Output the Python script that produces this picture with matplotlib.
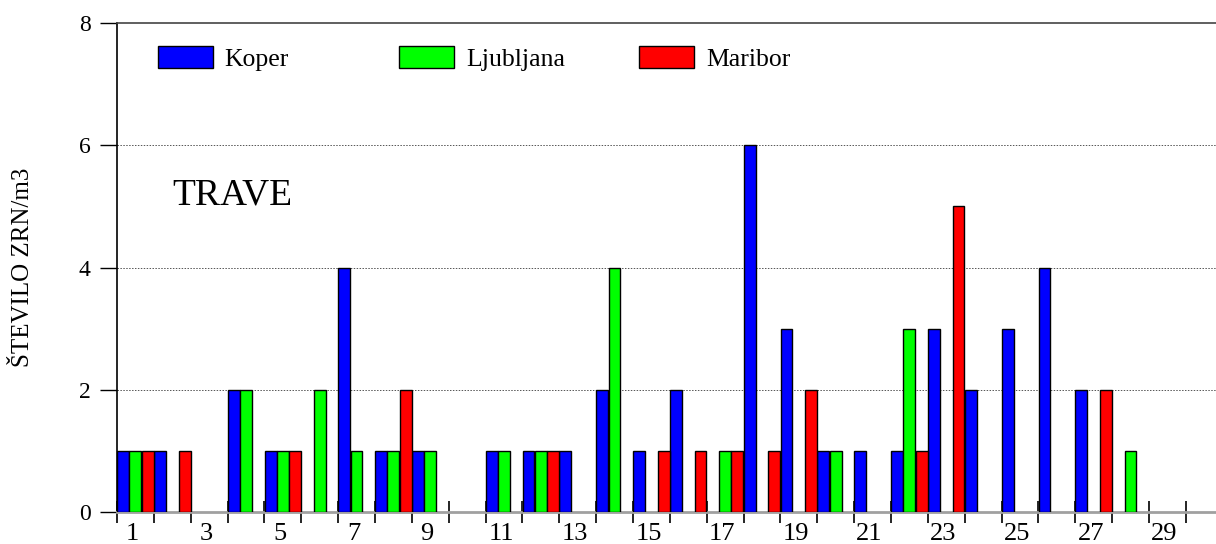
import numpy as np
import matplotlib
matplotlib.use("Agg")
import matplotlib.pyplot as plt
import matplotlib.transforms as mtransforms
from matplotlib.patches import Patch

plt.rcParams['font.family'] = ['Liberation Serif', 'DejaVu Serif']

# daily pollen counts (grasses), days 1..30
days = np.arange(1, 31)
koper = [1, 1, 0, 2, 1, 0, 4, 1, 1, 0,
         1, 1, 1, 2, 1, 2, 0, 6, 3, 1,
         1, 1, 3, 2, 3, 4, 2, 0, 0, 0]
ljubljana = [1, 0, 0, 2, 1, 2, 1, 1, 1, 0,
             1, 1, 0, 4, 0, 0, 1, 0, 0, 1,
             0, 3, 0, 0, 0, 0, 0, 1, 0, 0]
maribor = [1, 1, 0, 0, 1, 0, 0, 2, 0, 0,
           0, 1, 0, 0, 1, 1, 1, 1, 2, 0,
           0, 1, 5, 0, 0, 0, 2, 0, 0, 0]
series_names = ["Koper", "Ljubljana", "Maribor"]
colors = ["#0000ff", "#00ff00", "#ff0000"]

fig = plt.figure(figsize=(12.16, 5.44), dpi=100)
ax = fig.add_axes([0.0962, 0.0588, 0.9038, 0.8989])

w = 1 / 3
handles = []
for k, (vals, name, c) in enumerate(zip([koper, ljubljana, maribor], series_names, colors)):
    v = np.array(vals)
    mask = v > 0
    ax.bar(days[mask] + (k - 1) * w, v[mask], width=w * 0.97, color=c,
           edgecolor="black", linewidth=1.0, zorder=3)
    handles.append(Patch(facecolor=c, edgecolor="black", linewidth=1.0, label=name))

ax.set_xlim(0.5, 30.32)
ax.set_ylim(0, 8)

# y axis
ax.set_yticks([0, 2, 4, 6, 8])
ax.tick_params(axis="y", direction="out", length=12, width=1, labelsize=17, pad=7)
for yv in [2, 4, 6]:
    ax.axhline(yv, color="#555555", linestyle=(0, (1.5, 1.5)), linewidth=0.7, zorder=1)

# x axis: ticks at day boundaries, labels on odd days
ax.set_xticks(np.arange(0.5, 30, 1))
ax.set_xticklabels([])
ax.set_xticks(days[::2], minor=True)
ax.set_xticklabels([str(d) for d in days[::2]], minor=True)
ax.tick_params(axis="x", which="major", direction="inout", length=16, width=1.2)
ax.tick_params(axis="x", which="minor", length=0, labelsize=19, pad=8)
shift = mtransforms.ScaledTranslation(-3 / 100, 0, fig.dpi_scale_trans)
for lbl in ax.xaxis.get_minorticklabels():
    lbl.set_transform(lbl.get_transform() + shift)

ax.spines["right"].set_visible(False)
ax.spines["top"].set_color("#444444")
ax.spines["top"].set_linewidth(1.2)
ax.spines["bottom"].set_color("#a0a0a0")
ax.spines["bottom"].set_linewidth(2)
ax.spines["left"].set_linewidth(1.2)

ax.set_ylabel("ŠTEVILO ZRN/m3", fontsize=18)
ax.yaxis.set_label_coords(-0.0755, 0.5)

ax.text(0.05, 0.648, "TRAVE", transform=ax.transAxes, fontsize=27,
        ha="left", va="center")

# legend: three separate entries at fixed positions
for i, (h, xpos) in enumerate(zip(handles, [0.0373, 0.2566, 0.4750])):
    leg = ax.legend(handles=[h], loc="center left", bbox_to_anchor=(xpos, 0.928),
                    frameon=False, fontsize=18.5, handlelength=2.15, handleheight=0.95,
                    handletextpad=0.45, borderpad=0, borderaxespad=0)
    if i < len(handles) - 1:
        ax.add_artist(leg)

fig.savefig("out.png", dpi=100)
